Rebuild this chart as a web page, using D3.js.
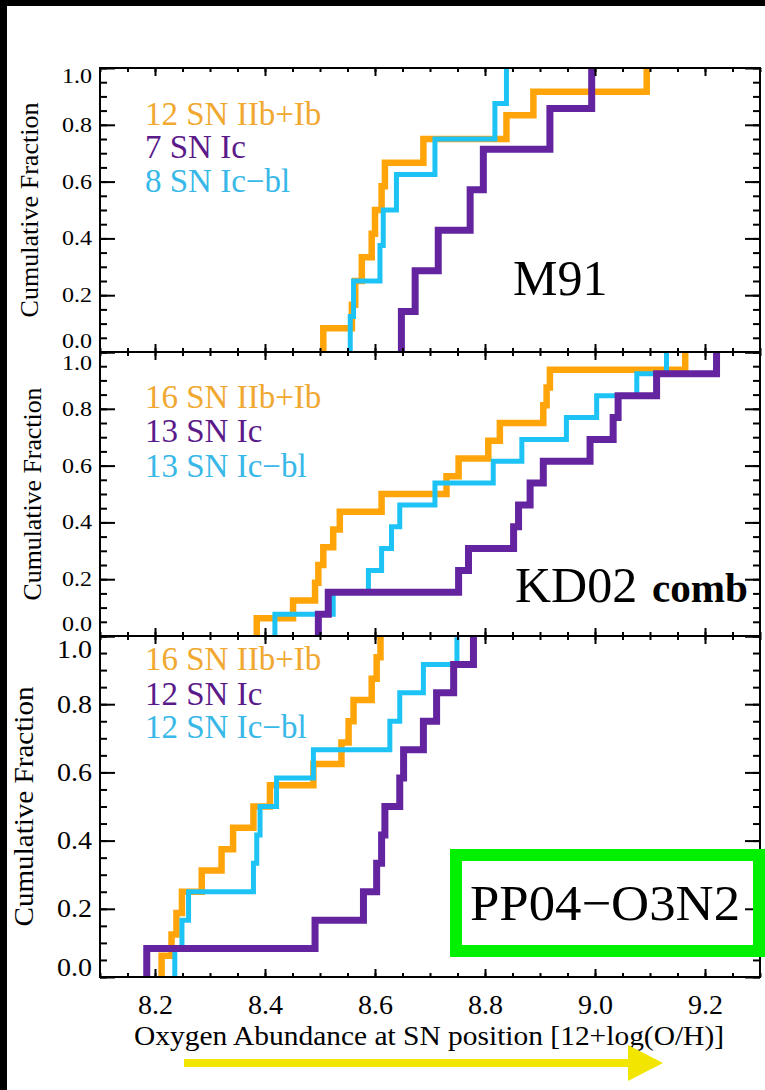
<!DOCTYPE html>
<html>
<head>
<meta charset="utf-8">
<script src="https://cdn.jsdelivr.net/npm/d3@7"></script>
<style>
body { margin: 0; background: #fff; }
</style>
</head>
<body>
<div id="grafica"></div>
<script>
// 12+log(O/H) en la posicion de cada SN, ordenado
var m91IIb   = [8.506, 8.558, 8.564, 8.576, 8.594, 8.600, 8.612, 8.618, 8.688, 8.839, 8.888, 9.094];
var m91Ic    = [8.648, 8.673, 8.715, 8.773, 8.797, 8.918, 8.994];
var m91IcBl  = [8.555, 8.561, 8.609, 8.615, 8.639, 8.709, 8.818, 8.839];

var kd02IIb  = [8.385, 8.451, 8.491, 8.497, 8.506, 8.524, 8.536, 8.612, 8.730, 8.752, 8.806, 8.827, 8.906, 8.912, 8.918, 9.164];
var kd02Ic   = [8.497, 8.515, 8.752, 8.770, 8.852, 8.861, 8.882, 8.906, 8.991, 9.033, 9.042, 9.112, 9.221];
var kd02IcBl = [8.418, 8.524, 8.588, 8.612, 8.630, 8.645, 8.709, 8.815, 8.867, 8.948, 9.003, 9.076, 9.130];

var pp04IIb  = [8.212, 8.230, 8.239, 8.249, 8.285, 8.321, 8.342, 8.379, 8.409, 8.488, 8.539, 8.552, 8.561, 8.594, 8.603, 8.610];
var pp04Ic   = [8.185, 8.491, 8.579, 8.603, 8.612, 8.618, 8.645, 8.652, 8.688, 8.712, 8.743, 8.779];
var pp04IcBl = [8.236, 8.249, 8.261, 8.379, 8.385, 8.391, 8.421, 8.488, 8.627, 8.645, 8.688, 8.749];

var xTicks = [8.2, 8.4, 8.6, 8.8, 9.0, 9.2];
var yTicks = [0, 0.2, 0.4, 0.6, 0.8, 1.0];
var tipos = ["SN IIb+Ib", "SN Ic", "SN Ic\u2212bl"];
var nombres = ["M91", "KD02", "PP04\u2212O3N2"];
var series = [[m91IIb, m91Ic, m91IcBl], [kd02IIb, kd02Ic, kd02IcBl], [pp04IIb, pp04Ic, pp04IcBl]];

// estilos
var colores = ["#ffa50a", "#6424a0", "#1ec3f5"];
var coloresTexto = ["#f0a830", "#5b1a8a", "#38b8e8"];
var grosor = [6.5, 7, 5];
var orden = [0, 2, 1]; // naranja, celeste, morado encima
var fuente = "'Liberation Serif', 'Times New Roman', serif";

// posiciones de cada panel (off0 / off1: desplazamiento de las etiquetas 0.0 y 1.0)
var cajas = [
  {top: 68,  bottom: 352, leyenda: [57, 90, 124], ylab: 38, tam: 26, largo: 215, tick: 20, tickLen: 30, off0: 11, off1: 8},
  {top: 352, bottom: 636, leyenda: [56, 90, 125], ylab: 41, tam: 26, largo: 213, tick: 20, tickLen: 30, off0: 12, off1: 11},
  {top: 636, bottom: 977, leyenda: [34, 69, 102], ylab: 33, tam: 27, largo: 240, tick: 25, tickLen: 35, off0: 10, off1: 13}
];

var izq = 100, der = 760;

var svg = d3.select("#grafica")
  .append("svg")
  .attr("width", 765)
  .attr("height", 1090)
  .attr("id", "svgraf");

svg.append("rect").attr("width", 765).attr("height", 1090).attr("fill", "#fff");

var x = d3.scaleLinear().domain([8.1, 9.3]).range([izq, der]);
var xMinor = d3.range(8.1, 9.3001, 0.05);
var yMinor = d3.range(0, 1.0001, 0.05);

function limpiar(g) {
  g.select(".domain").remove();
  g.selectAll("line").attr("stroke", "#000").attr("stroke-width", 2);
}

cajas.forEach(function (c, p) {
  var y = d3.scaleLinear().domain([0, 1]).range([c.bottom, c.top]);
  var g = svg.append("g");

  // curvas acumuladas
  var linea = d3.line()
    .x(function (d) { return x(d[0]); })
    .y(function (d) { return y(d[1]); })
    .curve(d3.curveStepAfter);

  orden.forEach(function (k) {
    var v = series[p][k];
    var n = v.length;
    var pts = [[v[0], 0]].concat(v.map(function (d, i) { return [d, (i + 1) / n]; }));
    g.append("path")
      .attr("d", linea(pts))
      .attr("fill", "none")
      .attr("stroke", colores[k])
      .attr("stroke-width", grosor[k]);
  });

  // marco
  g.append("rect")
    .attr("x", izq).attr("y", c.top)
    .attr("width", der - izq).attr("height", c.bottom - c.top)
    .attr("fill", "none").attr("stroke", "#000").attr("stroke-width", 2);

  // ticks izquierda
  g.append("g").attr("transform", "translate(" + izq + ",0)")
    .call(d3.axisLeft(y).tickValues(yMinor).tickSize(-7).tickFormat(""))
    .call(limpiar);
  var ejeY = g.append("g").attr("transform", "translate(" + izq + ",0)")
    .call(d3.axisLeft(y).tickValues(yTicks).tickSize(-15).tickPadding(8).tickFormat(d3.format(".1f")))
    .call(limpiar);
  ejeY.selectAll("text")
    .attr("font-family", fuente)
    .attr("font-size", c.tick)
    .attr("fill", "#000")
    .attr("textLength", c.tickLen)
    .attr("lengthAdjust", "spacingAndGlyphs")
    .attr("transform", function (d) {
      return d === 0 ? "translate(0," + (-c.off0) + ")" : d === 1 ? "translate(0," + c.off1 + ")" : null;
    });

  // ticks derecha
  g.append("g").attr("transform", "translate(" + der + ",0)")
    .call(d3.axisRight(y).tickValues(yMinor).tickSize(-7).tickFormat(""))
    .call(limpiar);
  g.append("g").attr("transform", "translate(" + der + ",0)")
    .call(d3.axisRight(y).tickValues(yTicks).tickSize(-15).tickFormat(""))
    .call(limpiar);

  // ticks arriba y abajo
  g.append("g").attr("transform", "translate(0," + c.top + ")")
    .call(d3.axisTop(x).tickValues(xMinor).tickSize(-4).tickFormat(""))
    .call(limpiar);
  g.append("g").attr("transform", "translate(0," + c.top + ")")
    .call(d3.axisTop(x).tickValues(xTicks).tickSize(-8).tickFormat(""))
    .call(limpiar);
  g.append("g").attr("transform", "translate(0," + c.bottom + ")")
    .call(d3.axisBottom(x).tickValues(xMinor).tickSize(-4).tickFormat(""))
    .call(limpiar);
  var ejeX = g.append("g").attr("transform", "translate(0," + c.bottom + ")")
    .call(d3.axisBottom(x).tickValues(xTicks).tickSize(-8).tickPadding(18)
      .tickFormat(p === 2 ? d3.format(".1f") : ""))
    .call(limpiar);
  ejeX.selectAll("text")
    .attr("font-family", fuente)
    .attr("font-size", 27)
    .attr("fill", "#000")
    .attr("textLength", p === 2 ? 35 : null)
    .attr("lengthAdjust", "spacingAndGlyphs");

  // leyenda
  tipos.forEach(function (t, k) {
    g.append("text")
      .attr("x", 145)
      .attr("y", c.top + c.leyenda[k])
      .attr("font-family", fuente)
      .attr("font-size", 33)
      .attr("fill", coloresTexto[k])
      .text(series[p][k].length + " " + t);
  });

  // titulo eje y
  g.append("text")
    .attr("transform", "translate(" + c.ylab + "," + ((c.top + c.bottom) / 2) + ") rotate(-90)")
    .attr("text-anchor", "middle")
    .attr("font-family", fuente)
    .attr("font-size", c.tam)
    .attr("textLength", c.largo)
    .attr("lengthAdjust", "spacingAndGlyphs")
    .text("Cumulative Fraction");
});

// nombres de calibracion
svg.append("text").attr("x", 513).attr("y", 295)
  .attr("font-family", fuente).attr("font-size", 50).text(nombres[0]);
svg.append("text").attr("x", 515).attr("y", 602)
  .attr("font-family", fuente).attr("font-size", 50).text(nombres[1]);
svg.append("text").attr("x", 652).attr("y", 602)
  .attr("font-family", fuente).attr("font-size", 42).attr("font-weight", "bold")
  .attr("textLength", 96).attr("lengthAdjust", "spacingAndGlyphs").text("comb");
svg.append("text").attr("x", 470).attr("y", 920)
  .attr("font-family", fuente).attr("font-size", 50)
  .attr("textLength", 270).attr("lengthAdjust", "spacingAndGlyphs").text(nombres[2]);

// recuadro verde
svg.append("rect")
  .attr("x", 456).attr("y", 855).attr("width", 303).attr("height", 96)
  .attr("fill", "none").attr("stroke", "#00f000").attr("stroke-width", 12);

// titulo eje x
svg.append("text")
  .attr("x", 429).attr("y", 1045)
  .attr("text-anchor", "middle")
  .attr("font-family", fuente).attr("font-size", 28)
  .attr("textLength", 590).attr("lengthAdjust", "spacingAndGlyphs")
  .text("Oxygen Abundance at SN position [12+log(O/H)]");

// flecha amarilla
svg.append("line")
  .attr("x1", 184).attr("x2", 632).attr("y1", 1063).attr("y2", 1063)
  .attr("stroke", "#f2e500").attr("stroke-width", 8);
svg.append("path")
  .attr("d", "M628,1045 L663,1063 L628,1081 Z")
  .attr("fill", "#f2e500");

// bordes negros
svg.append("rect").attr("x", 0).attr("y", 0).attr("width", 765).attr("height", 6).attr("fill", "#000");
svg.append("rect").attr("x", 0).attr("y", 0).attr("width", 7).attr("height", 1090).attr("fill", "#000");
</script>
</body>
</html>
